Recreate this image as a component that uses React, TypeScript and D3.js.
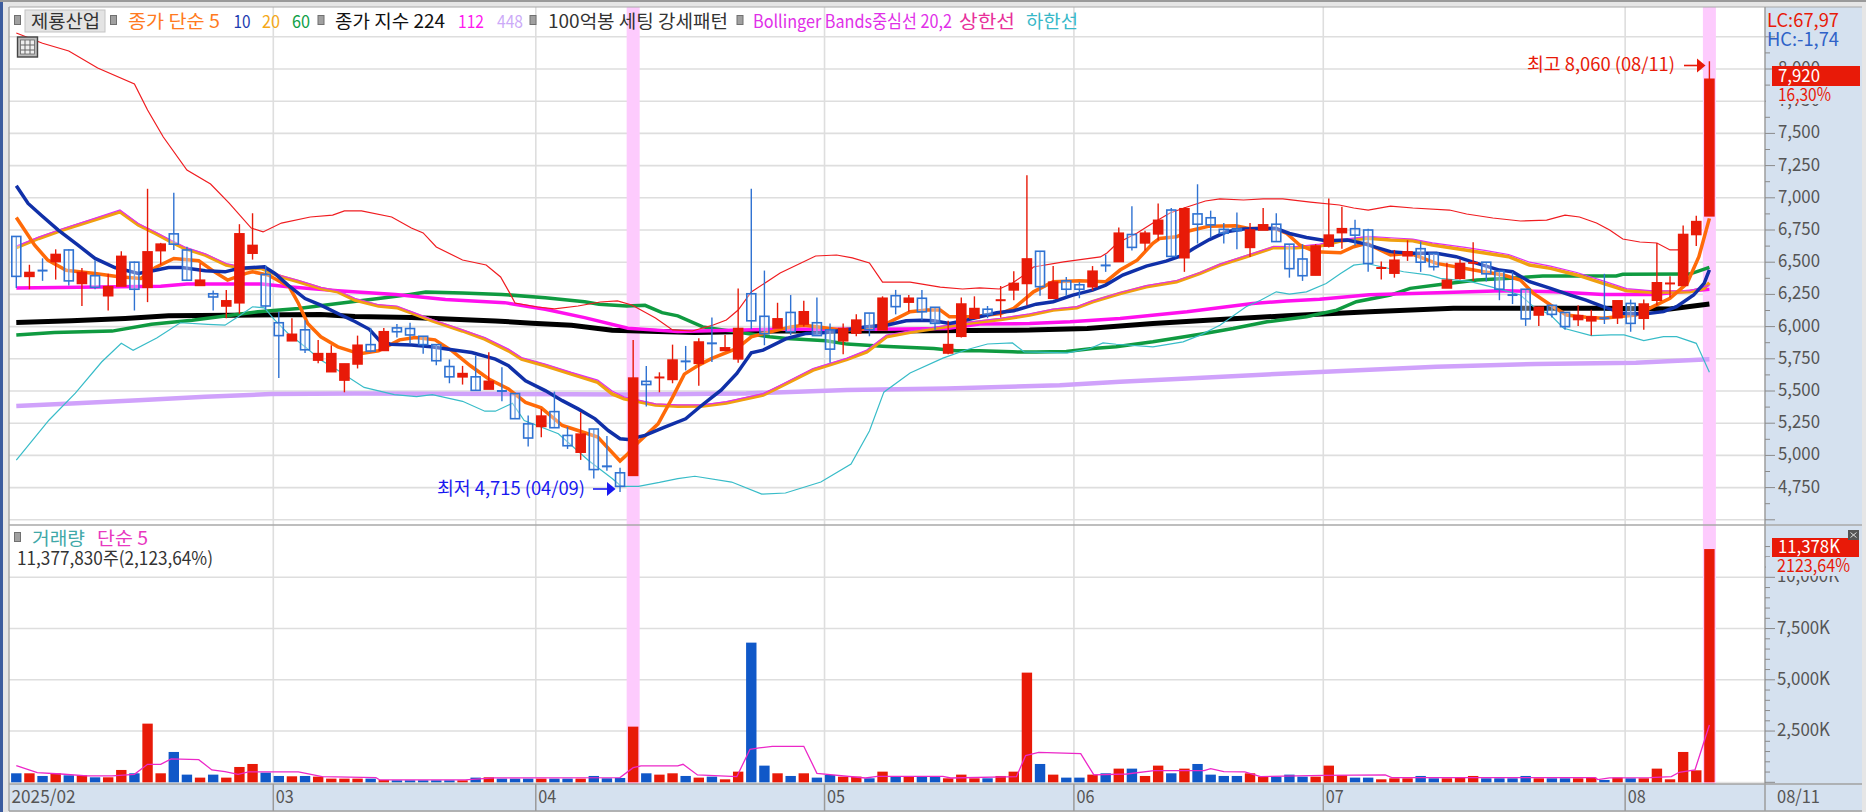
import React from 'react';
import * as d3 from 'd3';

// daily candles, 2025/02 .. 2025/08/11
const opens = [6700,6390,6435,6505,6595,6335,6395,6240,6315,6500,6305,6590,6720,6595,6320,6255,6160,6185,6570,6405,
  6030,5890,5975,5740,5650,5585,5710,5860,5815,5990,5985,5925,5860,5690,5610,5610,5515,5500,5480,5245,
  5225,5340,5155,5025,5205,4915,4865,4845,5575,5600,5590,5730,5715,5870,5815,5750,6255,6080,5990,6110,6020,6030,
  5975,5890,5950,6105,5975,6240,6190,6220,6150,5795,5925,6065,6135,6200,6285,6335,6585,6220,6355,
  6325,6310,6475,6505,6715,6650,6720,6905,6535,6875,6845,6755,6760,6615,6750,6795,6640,6525,6400,
  6625,6730,6760,6750,6450,6415,6550,6605,6570,6300,6375,6490,6500,6430,6245,6290,6090,6165,6110,6055,6045,6065,6070,
  6180,6065,6205,6330,6320,6715,6860];
const highs = [6700,6480,6530,6600,6600,6455,6515,6410,6585,6505,7070,6650,7040,6620,6490,6280,6285,6795,6880,6475,
  6115,6065,6050,5895,5855,5710,5930,5990,5990,6020,6030,5925,5860,5745,5695,5775,5800,5685,5480,5310,
  5360,5495,5220,5335,5205,5150,4905,5895,5695,5645,5860,5850,5910,6070,5935,6295,7070,6435,6185,6245,6200,6225,
  6025,6025,6095,6105,6235,6285,6245,6285,6150,6045,6225,6235,6160,6315,6430,7175,6585,6470,6385,
  6345,6470,6560,6770,6935,6745,6955,6920,6925,7105,6900,6805,6885,6805,6920,6880,6640,6640,6640,
  6995,6930,6830,6760,6505,6595,6670,6660,6570,6495,6520,6655,6500,6435,6425,6290,6155,6165,6110,6165,6130,6410,6200,
  6210,6210,6650,6390,6785,6860,8060];
const lows = [6300,6290,6355,6365,6320,6160,6290,6125,6315,6125,6190,6480,6595,6360,6320,6125,6065,6100,6520,6130,
  5600,5890,5795,5715,5650,5490,5675,5800,5815,5915,5865,5790,5700,5560,5550,5505,5515,5420,5285,5070,
  5140,5215,5050,4965,4820,4880,4715,4845,5380,5490,5560,5660,5540,5725,5810,5720,5980,5855,5990,5935,6000,5930,
  5720,5785,5925,5925,5975,6095,6115,6050,5975,5785,5915,6065,6065,6070,6205,6165,6240,6220,6235,
  6220,6280,6425,6505,6590,6590,6670,6540,6425,6645,6690,6645,6600,6540,6750,6660,6380,6355,6400,
  6615,6605,6630,6425,6365,6380,6510,6425,6435,6300,6365,6355,6350,6205,6175,6005,6005,6070,5975,6005,5930,6020,6020,
  5960,5975,6165,6225,6320,6625,6860];
const closes = [6390,6420,6430,6560,6355,6420,6305,6310,6545,6290,6580,6640,6640,6360,6360,6230,6200,6720,6630,6160,
  5930,5940,5820,5790,5790,5710,5855,5810,5960,5960,5935,5860,5735,5610,5635,5505,5575,5495,5285,5135,
  5305,5215,5075,5165,4890,4910,4760,5600,5550,5605,5740,5725,5880,5865,5835,5985,6045,5945,6060,5960,6115,5930,
  5825,5985,6050,5975,6220,6155,6220,6115,6025,5860,6175,6140,6095,6205,6335,6525,6310,6345,6290,
  6290,6430,6470,6725,6615,6725,6825,6545,6915,6795,6790,6725,6745,6750,6790,6660,6450,6395,6625,
  6710,6760,6710,6490,6455,6515,6580,6500,6465,6360,6490,6495,6410,6290,6240,6060,6150,6095,6000,6085,6075,6060,6200,
  6025,6175,6340,6335,6715,6815,7920];

// volume in thousand shares
const volumes = [439,439,309,439,341,341,244,244,602,439,2862,439,1480,374,228,374,228,748,894,472,
  309,293,309,276,179,179,179,179,114,98,98,98,98,98,98,228,244,179,179,179,
  179,179,179,179,309,195,211,2715,439,374,439,309,228,276,146,520,6813,813,439,309,439,228,
  358,276,276,195,520,276,276,276,276,195,374,195,195,309,520,5350,894,374,228,
  228,374,439,667,667,309,813,439,667,894,374,309,309,439,276,276,374,276,276,
  813,341,228,228,146,195,195,309,195,195,228,309,195,195,195,309,195,195,195,195,228,114,228,
  195,195,667,146,1480,585,11378];

// moving averages as [day index, price]
const ma5: [number, number][] = [[0,6847],[1.4,6632],[2.4,6516],[3.8,6438],[6,6412],[7.8,6387],[9.5,6374],[10.6,6459],[12,6529],[13.9,6511],[15.1,6425],[16.1,6361],[17.5,6413],[18,6425],[19.2,6400],[20.8,6309],[21.5,6180],[22.2,6024],[23.2,5921],[24.5,5843],[25.8,5800],[26.3,5791],[27.6,5812],[29.2,5897],[30.4,5915],[31.9,5897],[33.2,5812],[34.6,5696],[36,5593],[37.5,5516],[38.8,5412],[40,5369],[41.6,5232],[42.8,5193],[44.3,5142],[46,4956],[46.6,5013],[47.4,5103],[48.9,5245],[50,5451],[50.9,5631],[52,5701],[53,5753],[54.9,5830],[56,5921],[57,5947],[59,5998],[60,6011],[61,5998],[62.8,5973],[64.3,5978],[66.3,6024],[68.1,6115],[69.4,6128],[70.4,6128],[71.1,6076],[72.9,6076],[75,6102],[76,6141],[77.5,6270],[79,6348],[81,6356],[83,6348],[84.1,6439],[85.4,6516],[86.6,6646],[87.1,6684],[88.4,6697],[89.4,6744],[90.9,6780],[92.9,6783],[93.9,6762],[95.9,6762],[96.8,6723],[97.8,6632],[99,6581],[100.9,6573],[101.9,6620],[102.9,6646],[104.7,6556],[106.2,6569],[108.2,6491],[111.8,6426],[113.3,6401],[114.6,6362],[115.6,6258],[116.9,6168],[118.1,6090],[119.6,6072],[120.9,6064],[122,6077],[123.4,6090],[124.7,6155],[126,6219],[127.3,6336],[128.2,6543],[129,6840]];
const ma10: [number, number][] = [[0,7093],[0.9,6956],[1.9,6865],[3.2,6749],[4.7,6632],[6,6529],[7.5,6459],[9.3,6413],[10.6,6438],[11.6,6459],[12.6,6459],[14.4,6433],[15.9,6425],[16.9,6451],[18.9,6464],[19.7,6413],[20.7,6322],[22,6218],[23.2,6167],[24.5,6102],[25.8,6040],[26.9,5979],[27.7,5889],[28.5,5863],[30.1,5858],[31.6,5843],[33.2,5820],[34.7,5799],[36.5,5747],[37.5,5696],[38.8,5580],[40.3,5503],[41.6,5425],[42.8,5361],[44.1,5284],[45.1,5193],[46,5129],[46.6,5124],[47.9,5155],[49.4,5219],[51,5284],[52,5370],[52.9,5442],[53.7,5507],[54.9,5636],[56,5797],[56.9,5817],[58.7,5908],[60.2,5947],[61.7,5955],[64.8,5998],[66.3,6011],[67.8,6045],[68.9,6050],[69.9,6045],[71.1,6024],[72.4,6050],[73.4,6076],[74.7,6107],[76,6123],[77.7,6174],[79,6193],[80.5,6244],[82,6283],[83,6322],[84.3,6400],[86.1,6470],[87.6,6508],[88.9,6555],[89.7,6607],[90.9,6676],[92.2,6736],[93.5,6757],[94.7,6762],[96,6762],[97,6723],[98.3,6692],[99.8,6666],[101.4,6672],[102.6,6646],[104.7,6582],[106.2,6569],[108.2,6569],[109.7,6543],[111.3,6491],[113,6439],[114,6426],[115.3,6349],[116.9,6297],[118.4,6245],[119.6,6206],[120.9,6155],[122.4,6103],[124,6098],[125.5,6116],[126.5,6155],[127.8,6245],[128.6,6336],[129,6440]];
const ma20: [number, number][] = [[0,6614],[1.7,6684],[3.5,6749],[5.5,6814],[7.9,6891],[9.3,6788],[10.6,6723],[11.8,6658],[12.8,6607],[14.4,6555],[16,6477],[17.4,6451],[18.7,6451],[20.2,6387],[21.5,6348],[23.2,6296],[24.5,6270],[25.8,6205],[27.6,6160],[29,6147],[30.4,6095],[31.7,6044],[34,5966],[35.7,5902],[37.5,5812],[38.5,5747],[40.3,5696],[42.3,5632],[44.3,5567],[45.4,5477],[46.3,5440],[48.7,5391],[50.4,5381],[52.3,5383],[54.1,5407],[56.9,5469],[58.2,5533],[60.7,5662],[63.3,5745],[64.8,5804],[66.3,5921],[68.1,5955],[72.4,6024],[75,6055],[77.2,6089],[79,6128],[80.8,6146],[82,6193],[84.1,6257],[86.1,6309],[88.4,6348],[90.2,6413],[91.7,6477],[93.7,6542],[95.8,6614],[97.5,6612],[99.3,6625],[100.9,6664],[103,6685],[104.7,6672],[106.4,6667],[107.9,6634],[110.4,6595],[112,6569],[113.7,6543],[115.3,6478],[116.9,6452],[118.9,6401],[120.9,6336],[122.7,6279],[124.7,6266],[127.5,6271],[128.6,6297],[129,6340]];
const ma60: [number, number][] = [[0,5934],[2.9,5954],[7.3,5965],[10.3,6019],[13.4,6050],[18.4,6115],[21.5,6141],[24.5,6180],[27.6,6219],[30,6250],[31.2,6268],[34,6260],[37,6250],[40.3,6224],[43.3,6193],[44.4,6173],[46.5,6160],[47.9,6165],[49.2,6108],[50.4,6083],[52.3,5998],[57.4,5921],[58.7,5908],[61.7,5890],[63.3,5864],[66,5848],[69.9,5830],[71.6,5812],[73.4,5812],[75.9,5804],[77.7,5802],[80,5807],[82,5830],[83.8,5843],[86.6,5882],[90.2,5941],[92.7,5985],[95.3,6037],[98.3,6076],[100.6,6128],[102.1,6193],[104.7,6245],[106.2,6297],[108.8,6331],[111.3,6362],[113.8,6375],[116.3,6393],[119.4,6393],[121.9,6393],[122.4,6406],[127.5,6408],[129,6460]];
const ma224: [number, number][] = [[0,6032],[4.2,6045],[8.3,6063],[11.6,6084],[16.4,6089],[23.2,6094],[25.8,6078],[30.1,6070],[36.5,6044],[39.3,6026],[42.3,6010],[45.4,5972],[51.7,5954],[58.2,5967],[65.8,5965],[77.2,5973],[81.6,5986],[86.6,6024],[91.7,6055],[96.8,6084],[103.1,6115],[109.5,6142],[120.9,6142],[126,6137],[129,6175]];
const ma112: [number, number][] = [[0,6299],[11,6314],[13,6330],[18.7,6330],[20.7,6309],[24.5,6278],[28.9,6250],[32.7,6211],[37.2,6186],[40.3,6134],[43.3,6070],[46.6,5987],[50.4,5961],[58.2,5980],[65.8,5980],[70.9,5986],[73.4,6020],[77.2,6024],[80.3,6037],[84.1,6063],[89.2,6115],[94.2,6180],[96.8,6198],[99.3,6213],[103.1,6247],[107,6258],[113.3,6279],[117.1,6271],[120.9,6250],[124.7,6250],[129,6289]];
const ma448: [number, number][] = [[0,5383],[4.2,5403],[9.3,5429],[14.4,5455],[19.4,5476],[25.8,5480],[37.7,5477],[46.6,5472],[55.6,5481],[63.3,5507],[70.9,5520],[79.5,5545],[84.1,5571],[89.2,5597],[96.8,5636],[103.1,5665],[108.2,5689],[115.8,5710],[123.4,5720],[129,5746]];

// bollinger 20,2
const bbMid: [number, number][] = [[0,6625],[1.7,6695],[3.5,6760],[5.5,6825],[7.9,6905],[9.3,6800],[10.6,6735],[11.8,6670],[12.8,6620],[14.4,6565],[16,6490],[17.4,6460],[18.7,6460],[20.2,6395],[21.5,6360],[23.2,6305],[24.5,6280],[25.8,6220],[27.6,6170],[29,6160],[30.4,6105],[31.7,6055],[34,5975],[35.7,5915],[37.5,5825],[38.5,5760],[40.3,5710],[42.3,5645],[44.3,5585],[45.4,5500],[46.3,5455],[48.7,5400],[50.4,5392],[52.3,5392],[54.1,5418],[56.9,5480],[58.2,5545],[60.7,5675],[63.3,5755],[64.8,5818],[66.3,5935],[68.1,5968],[72.4,6033],[75,6065],[77.2,6100],[79,6135],[80.8,6155],[82,6200],[84.1,6265],[86.1,6318],[88.4,6358],[90.2,6420],[91.7,6485],[93.7,6552],[95.8,6622],[97.5,6622],[99.3,6640],[100.9,6676],[103,6700],[104.7,6690],[106.4,6680],[107.9,6650],[110.4,6615],[112,6590],[113.7,6560],[115.3,6500],[116.9,6470],[118.9,6420],[120.9,6355],[122.7,6295],[124.7,6278],[127.5,6280],[129,6320]];
const bbUpper: [number, number][] = [[0,8280],[2,8200],[4,8140],[6.2,8008],[9,7884],[10,7682],[11.2,7472],[13,7216],[14.8,7107],[16.2,6960],[17.9,6765],[18.8,6735],[20.2,6804],[22.4,6851],[24.1,6866],[25,6898],[26.3,6898],[28.6,6851],[30.1,6765],[31,6727],[32,6618],[34,6517],[35.8,6478],[36.9,6385],[37.6,6260],[38,6183],[39.7,6152],[41,6137],[42.8,6160],[44.5,6191],[45.8,6199],[46.9,6168],[48.7,6067],[50,5974],[51.5,5966],[52.3,5989],[53.1,6012],[54.1,6051],[55,6129],[56,6269],[58.2,6416],[60.9,6548],[62.5,6556],[63.7,6533],[65,6494],[66,6346],[68.1,6346],[70.4,6307],[72.1,6292],[73.4,6300],[74.9,6292],[75.9,6338],[77,6416],[77.5,6463],[79.8,6502],[82.6,6541],[83.1,6571],[83.9,6649],[85.4,6727],[86.6,6804],[87.9,6882],[89.2,6929],[90.6,6975],[91.7,6991],[93.5,6983],[95,6991],[96.5,6991],[98.6,6967],[100.8,6944],[101.9,6921],[103,6905],[104.7,6936],[106.4,6921],[109.2,6905],[110.5,6874],[112.5,6843],[114.6,6820],[116.6,6827],[118,6866],[119.1,6851],[120.4,6804],[121.4,6750],[122.4,6680],[123.7,6657],[125,6649],[126,6595],[126.6,6595],[127,6640]];
const bbLower: [number, number][] = [[0,4964],[2.5,5275],[4.5,5484],[6.5,5725],[8,5870],[8.9,5816],[10.7,5911],[12.5,6030],[14.6,6018],[15.9,6011],[16.9,6076],[18,6154],[18.9,6145],[19.7,6050],[20.7,5947],[22,5843],[23.2,5740],[24.5,5662],[25.3,5606],[26.5,5528],[28.8,5472],[30.5,5456],[31.7,5472],[34,5420],[35.7,5343],[36.5,5343],[37.8,5405],[38.7,5271],[41.3,5168],[43.6,4961],[45.4,4820],[46.1,4760],[47.4,4760],[49,4790],[50.4,4820],[51.7,4838],[54.5,4793],[56.8,4700],[58.6,4708],[61.3,4793],[63.6,4933],[65,5190],[66.1,5491],[68.1,5640],[70.6,5755],[72.4,5820],[74,5865],[75.9,5873],[76.8,5803],[80.1,5796],[81.8,5830],[82.8,5873],[83.8,5863],[86.6,5843],[88.9,5882],[90.2,5934],[91.7,6011],[93.7,6154],[94.8,6205],[96,6270],[97,6252],[98.3,6270],[99.8,6335],[100.9,6412],[101.9,6477],[102.9,6490],[105.7,6426],[107.7,6400],[108.5,6375],[110.8,6349],[112.3,6310],[114.6,6245],[115.6,6155],[116.9,6090],[117.9,5987],[120,5930],[121.5,5935],[122.5,5935],[124,5891],[125.5,5922],[126.5,5922],[128,5870],[129,5645]];

// volume 5 day average, thousand shares
const volMa5: [number, number][] = [[0,813],[1.6,472],[3.4,406],[5.4,309],[7.3,309],[9,390],[10,878],[11,878],[11.8,1138],[13.9,1106],[14.9,602],[15.9,520],[16.9,390],[17.7,504],[21.5,504],[23.3,276],[27.4,228],[27.7,114],[34.2,114],[36.4,211],[46,228],[47,715],[47.6,797],[50.4,797],[50.8,878],[51.9,358],[54.9,276],[55.9,1610],[56.6,1675],[57.6,1756],[60,1756],[61,439],[64.7,211],[65.6,293],[70.6,293],[71.2,211],[76.2,276],[76.9,1301],[77.9,1463],[81.1,1398],[82.1,358],[84.6,406],[86.7,569],[90.5,569],[91,667],[92,520],[93.6,504],[94.8,276],[99.6,341],[104.3,358],[104.8,228],[120.3,228],[120.5,130],[121.4,211],[124.5,228],[126.1,276],[126.7,488],[127.9,602],[129,2797]];

const priceTicks = [8000,7750,7500,7250,7000,6750,6500,6250,6000,5750,5500,5250,5000,4750];
const priceGrid = [8250,8000,7750,7500,7250,7000,6750,6500,6250,6000,5750,5500,5250,5000,4750,4500];
const volumeTicks = [10000,7500,5000,2500];
const monthDays = [20,40,62,81,100,123];
const monthLabels = ['03','04','05','06','07','08'];
const highlightDays = [47,129];

const FONT = '"Noto Sans CJK KR", "Liberation Sans", sans-serif';
const RED = '#e81a08';
const BLUE = '#2f72d2';
const PANEL = '#d5e1ef';
const GRID = '#dedede';

const x = d3.scaleLinear().domain([0, 129]).range([16.3, 1709.4]);
const yP = d3.scaleLinear().domain([5500, 8000]).range([391, 69]);
const yV = d3.scaleLinear().domain([0, 10000]).range([782.3, 577.3]);

const priceLine = d3.line<[number, number]>().x(d => x(d[0])).y(d => yP(d[1]));
const volLine = d3.line<[number, number]>().x(d => x(d[0])).y(d => yV(d[1]));
const fmt = d3.format(',');

const Label = ({ tx, ty, w, fill, size = 18, children }: any) => (
  <text x={tx} y={ty - 3} fill={fill} fontSize={size} fontFamily={FONT} dominantBaseline="central"
    textLength={w} lengthAdjust="spacingAndGlyphs">{children}</text>
);

const Marker = ({ mx, my }: { mx: number; my: number }) => (
  <rect x={mx - 3} y={my - 4.5} width={6} height={9} fill="#a0a0a0" stroke="#707070" />
);

const App: React.FC = () => {
  const lines: [[number, number][], string, number][] = [
    [ma448, '#d0a2fb', 4.5],
    [ma224, '#000000', 5],
    [ma60, '#0f9a40', 3.5],
    [ma112, '#ff10ee', 3.5],
    [bbLower, '#38bcc8', 1.2],
    [bbUpper, '#f01c20', 1.2],
    [ma20, '#f0a010', 3.5],
    [bbMid, '#e030f0', 1.2],
    [ma5, '#ff6a08', 3.5],
    [ma10, '#1030a8', 3.5],
  ];

  return (
    <svg width={1866} height={812} style={{ position: 'absolute', left: 0, top: 0, display: 'block' }}>
      <rect width={1866} height={812} fill="#e6e6e6" />
      <rect width={3} height={812} fill="#3c5c9e" />
      <rect width={1866} height={2} fill="#9a9a9a" />
      <rect x={9} y={7} width={1756} height={777} fill="#ffffff" />
      <rect x={1765} y={7} width={97} height={777} fill={PANEL} />
      <rect x={9} y={784} width={1853} height={27} fill={PANEL} />

      {priceGrid.map(v => <line key={v} x1={9} x2={1765} y1={yP(v)} y2={yP(v)} stroke={GRID} strokeWidth={1.6} />)}
      {volumeTicks.map(v => <line key={v} x1={9} x2={1765} y1={yV(v)} y2={yV(v)} stroke={GRID} strokeWidth={1.6} />)}
      <line x1={9} x2={1765} y1={yV(0)} y2={yV(0)} stroke={GRID} strokeWidth={1} />
      {monthDays.map(d => <line key={d} x1={x(d) - 5.5} x2={x(d) - 5.5} y1={7} y2={784} stroke={GRID} strokeWidth={1.6} />)}
      {highlightDays.map(d => <rect key={d} x={x(d) - 6.5} y={7} width={13} height={777} fill="#fdcbfd" />)}

      {/* frame */}
      <line x1={9} x2={1862} y1={525} y2={525} stroke="#a8a8a8" strokeWidth={1.5} />
      <line x1={9} x2={9} y1={7} y2={811} stroke="#a8a8a8" strokeWidth={1.5} />
      <line x1={9} x2={1862} y1={7} y2={7} stroke="#a8a8a8" strokeWidth={1} />
      <line x1={1765} x2={1765} y1={7} y2={811} stroke="#9c9c9c" strokeWidth={1.5} />
      <line x1={9} x2={1862} y1={784} y2={784} stroke="#a0a0a0" strokeWidth={1.5} />
      <line x1={9} x2={1862} y1={811} y2={811} stroke="#a0a0a0" strokeWidth={1.5} />
      {monthDays.map(d => <line key={d} x1={x(d) - 5.5} x2={x(d) - 5.5} y1={784} y2={811} stroke="#9a9a9a" strokeWidth={1.5} />)}

      {/* moving averages + bands */}
      {lines.map(([pts, col, w], i) => (
        <path key={i} d={priceLine(pts) || ''} fill="none" stroke={col} strokeWidth={w} />
      ))}

      {/* candles */}
      {closes.map((c, i) => {
        const up = c >= opens[i];
        const top = yP(Math.max(c, opens[i]));
        const bot = yP(Math.min(c, opens[i]));
        const col = up ? RED : BLUE;
        return (
          <g key={i}>
            <line x1={x(i)} x2={x(i)} y1={yP(highs[i])} y2={yP(lows[i])} stroke={col} strokeWidth={1.4} />
            {Math.abs(c - opens[i]) <= 10
              ? <line x1={x(i) - 5} x2={x(i) + 5} y1={top} y2={top} stroke={col} strokeWidth={2} />
              : <rect x={x(i) - 4.5} y={top} width={9} height={bot - top}
                  fill={up ? RED : '#ffffff'} fillOpacity={up ? 1 : 0.35} stroke={col} strokeWidth={1.6} />}
          </g>
        );
      })}

      {/* volume */}
      {volumes.map((v, i) => (
        <rect key={i} x={x(i) - 5.2} y={yV(v)} width={10.4} height={yV(0) - yV(v)}
          fill={closes[i] >= opens[i] ? RED : '#1058c8'} />
      ))}
      <path d={volLine(volMa5) || ''} fill="none" stroke="#ec28c8" strokeWidth={1.3} />

      {/* price axis */}
      {d3.range(4500, 8251, 125).map(v => (
        <line key={v} x1={1765} x2={v % 250 === 0 ? 1775 : 1770} y1={yP(v)} y2={yP(v)} stroke="#8a8a8a" />
      ))}
      {priceTicks.map(v => (
        <Label key={v} tx={1778} ty={yP(v)} w={42} fill="#555">{fmt(v)}</Label>
      ))}
      {/* volume axis */}
      {d3.range(0, 11501, 500).map(v => (
        <line key={v} x1={1765} x2={v % 2500 === 0 ? 1775 : 1770} y1={yV(v)} y2={yV(v)} stroke="#8a8a8a" />
      ))}
      {volumeTicks.map(v => (
        <Label key={v} tx={1777} ty={yV(v)} w={v === 10000 ? 62 : 53} fill="#555">{fmt(v)}K</Label>
      ))}

      {/* last price flags */}
      <rect x={1766} y={86} width={96} height={18} fill={PANEL} />
      <rect x={1772} y={66} width={88} height={20} fill={RED} />
      <Label tx={1778} ty={77} w={42} fill="#fff">7,920</Label>
      <Label tx={1778} ty={96} w={53} fill={RED}>16,30%</Label>
      <rect x={1766} y={557} width={96} height={19} fill={PANEL} />
      <rect x={1772} y={538} width={87} height={19} fill={RED} />
      <Label tx={1778} ty={548} w={62} fill="#fff">11,378K</Label>
      <Label tx={1777} ty={567} w={73} fill={RED}>2123,64%</Label>
      <rect x={1848} y={530} width={11} height={10} fill="#555" />
      <path d="M1850.5,532.5 L1856.5,537.5 M1856.5,532.5 L1850.5,537.5" stroke="#ddd" strokeWidth={1} />
      <Label tx={1767} ty={21} w={72} fill={RED} size={19}>LC:67,97</Label>
      <Label tx={1767} ty={40} w={72} fill="#2f62c8" size={19}>HC:-1,74</Label>

      {/* high / low notes */}
      <Label tx={1527} ty={66} w={148} fill={RED}>최고 8,060 (08/11)</Label>
      <path d="M1684,65.5 H1698" stroke={RED} strokeWidth={1.6} />
      <path d="M1697,58.5 L1705.5,65.5 L1697,72.5 Z" fill={RED} />
      <Label tx={437} ty={490} w={148} fill="#1818f0">최저 4,715 (04/09)</Label>
      <path d="M593,489 H608" stroke="#1818f0" strokeWidth={1.6} />
      <path d="M607,482 L615.5,489 L607,496 Z" fill="#1818f0" />

      {/* legend */}
      <Marker mx={17.5} my={20} />
      <rect x={25} y={10} width={80} height={22} fill="#e4e4e4" stroke="#c4c4c4" />
      <Label tx={31} ty={23} w={69} fill="#333">제룡산업</Label>
      <Marker mx={113.5} my={20} />
      <Label tx={128} ty={23} w={92} fill="#ff7a20">종가 단순 5</Label>
      <Label tx={233.5} ty={23} w={17} fill="#1c3cb0">10</Label>
      <Label tx={262} ty={23} w={18} fill="#f5a818">20</Label>
      <Label tx={292} ty={23} w={18} fill="#10a048">60</Label>
      <Marker mx={321} my={20} />
      <Label tx={335} ty={23} w={110} fill="#111">종가 지수 224</Label>
      <Label tx={458} ty={23} w={26} fill="#ff18f0">112</Label>
      <Label tx={497} ty={23} w={26} fill="#ccaaf8">448</Label>
      <Marker mx={533} my={20} />
      <Label tx={548} ty={23} w={180} fill="#333">100억봉 세팅 강세패턴</Label>
      <Marker mx={740} my={20} />
      <Label tx={753} ty={23} w={199} fill="#e030e8">Bollinger Bands중심선 20,2</Label>
      <Label tx={959} ty={23} w={56} fill="#e8309a">상한선</Label>
      <Label tx={1026} ty={23} w={52} fill="#38b8c8">하한선</Label>

      {/* table icon */}
      <rect x={17.5} y={37} width={20} height={20} fill="#bbb" stroke="#444" strokeWidth={1.4} />
      <rect x={20.5} y={40} width={14} height={14} fill="#eee" stroke="#666" strokeWidth={0.8} />
      {[25, 30].map(p => <line key={p} x1={p} x2={p} y1={40} y2={54} stroke="#666" />)}
      {[45, 50].map(p => <line key={p} x1={20.5} x2={34.5} y1={p} y2={p} stroke="#666" />)}

      {/* volume legend */}
      <Marker mx={17.5} my={537} />
      <Label tx={32} ty={540} w={53} fill="#40a8a8">거래량</Label>
      <Label tx={97} ty={540} w={51} fill="#e838c0">단순 5</Label>
      <Label tx={17} ty={560} w={196} fill="#333">11,377,830주(2,123,64%)</Label>

      {/* dates */}
      <Label tx={11.5} ty={798} w={64} fill="#555">2025/02</Label>
      {monthLabels.map((m, i) => (
        <Label key={m} tx={x(monthDays[i]) - 3} ty={798} w={18} fill="#555">{m}</Label>
      ))}
      <Label tx={1777} ty={798} w={43} fill="#555">08/11</Label>
    </svg>
  );
};

export default App;
